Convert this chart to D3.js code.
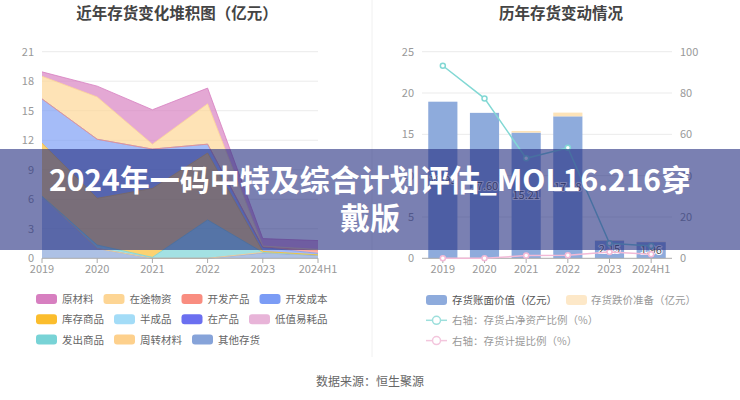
<!DOCTYPE html>
<html><head><meta charset="utf-8">
<script src="https://cdn.jsdelivr.net/npm/d3@7/dist/d3.min.js"></script>
<style>
html,body{margin:0;padding:0;background:#fff;}
svg{display:block;font-family:"Noto Sans CJK SC","Noto Sans",sans-serif;}
</style></head>
<body>
<svg id="c" width="740" height="400"></svg>
<script>
// ---------- data ----------
const years = ["2019","2020","2021","2022","2023","2024H1"];
// left chart: stacked area (bottom -> top order)
const stackKeys = ["其他存货","周转材料","发出商品","低值易耗品","在产品","半成品","库存商品","开发成本","开发产品","在途物资","原材料"];
const s_其他存货   = [6.3, 1.0, 0.0, 0.0, 0.55, 0.3];
const s_周转材料   = [0, 0, 0, 0, 0.05, 0.05];
const s_发出商品   = [0, 0.35, 0.1, 3.9, 0, 0];
const s_低值易耗品 = [0, 0, 0, 0, 0, 0];
const s_在产品     = [0, 0, 0, 0, 0, 0];
const s_半成品     = [0, 0, 0, 0, 0, 0];
const s_库存商品   = [5.4, 4.75, 7.0, 6.8, 0.1, 0];
const s_开发成本   = [4.5, 6.0, 4.0, 0.9, 0.4, 0.15];
const s_开发产品   = [0, 0, 0, 0, 0.05, 0.3];
const s_在途物资   = [2.3, 4.3, 0.5, 4.1, 0.1, 0.1];
const s_原材料     = [0.45, 1.1, 3.5, 1.6, 0.75, 0.9];
const leftTicks = [0,3,6,9,12,15,18,21];
const legendLeft = ["原材料","在途物资","开发产品","开发成本","库存商品","半成品","在产品","低值易耗品","发出商品","周转材料","其他存货"];
const colorsLeft = {"原材料":"#d77fc0","在途物资":"#fdd594","开发产品":"#f98d80","开发成本":"#7b9cf5","库存商品":"#fbbd2d","半成品":"#a3dcf7","在产品":"#6b6ff0","低值易耗品":"#e8b4d8","发出商品":"#78d3d6","周转材料":"#fdd08c","其他存货":"#86a3d9"};
// right chart
const bookValue = [18.95, 17.60, 15.21, 17.18, 2.15, 1.96];
const provision = [0.0, 0.0, 0.2, 0.45, 0.05, 0.05];
const ratioNetAsset = [93.2, 77.4, 48.4, 53.5, 7.3, 6.0];
const ratioProvision = [0, 0, 1.3, 1.5, 3.0, 2.0];
const rightTicksL = [0,5,10,15,20,25];
const rightTicksR = [0,20,40,60,80,100];

const svg = d3.select("#c");
const series = {"其他存货":s_其他存货,"周转材料":s_周转材料,"发出商品":s_发出商品,"低值易耗品":s_低值易耗品,"在产品":s_在产品,"半成品":s_半成品,"库存商品":s_库存商品,"开发成本":s_开发成本,"开发产品":s_开发产品,"在途物资":s_在途物资,"原材料":s_原材料};
const table = years.map((y,i)=>{const o={year:y}; stackKeys.forEach(k=>o[k]=series[k][i]); return o;});

// divider
svg.append("line").attr("x1",372).attr("x2",372).attr("y1",0).attr("y2",357).attr("stroke","#f0f0f0");

// ---------- left chart ----------
const xL = d3.scalePoint().domain(years).range([42,318]);
const yL = d3.scaleLinear().domain([0,21]).range([258.3,51.7]);
svg.append("text").attr("x",177).attr("y",19).attr("text-anchor","middle").attr("font-size",15.5).attr("font-weight","bold").attr("fill","#444").text("近年存货变化堆积图（亿元）");
const gL = svg.append("g");
leftTicks.forEach(t=>{
  if(t>0) gL.append("line").attr("x1",42).attr("x2",318).attr("y1",yL(t)).attr("y2",yL(t)).attr("stroke","#ebebeb");
  gL.append("text").attr("x",34).attr("y",yL(t)+4).attr("text-anchor","end").attr("font-size",11).attr("fill","#999").text(t);
});
const stack = d3.stack().keys(stackKeys)(table);
const area = d3.area().x((d,i)=>xL(years[i])).y0(d=>yL(d[0])).y1(d=>yL(d[1]));
const line = d3.line().x((d,i)=>xL(years[i])).y(d=>yL(d[1]));
stack.forEach(s=>{
  gL.append("path").attr("d",area(s)).attr("fill",colorsLeft[s.key]).attr("fill-opacity",0.68);
});
stack.forEach(s=>{
  const tot = d3.sum(series[s.key]);
  if(tot>0) gL.append("path").attr("d",line(s)).attr("fill","none").attr("stroke",colorsLeft[s.key]).attr("stroke-width",1).attr("stroke-opacity",0.8);
});
gL.append("line").attr("x1",42).attr("x2",318).attr("y1",258.3).attr("y2",258.3).attr("stroke","#aaa");
years.forEach(y=>{
  gL.append("line").attr("x1",xL(y)).attr("x2",xL(y)).attr("y1",258.3).attr("y2",263).attr("stroke","#aaa");
  gL.append("text").attr("x",xL(y)).attr("y",273).attr("text-anchor","middle").attr("font-size",11).attr("fill","#999").text(y);
});

// left legend (flow layout)
const legL = svg.append("g").attr("font-size",10.5).attr("fill","#666");
const rowsL = [legendLeft.slice(0,4),legendLeft.slice(4,8),legendLeft.slice(8)];
rowsL.forEach((row,ri)=>{
  let x = 36; const y = 299 + ri*20.3;
  row.forEach(name=>{
    legL.append("rect").attr("x",x).attr("y",y-5).attr("width",21).attr("height",10).attr("rx",3).attr("fill",colorsLeft[name]);
    const t = legL.append("text").attr("x",x+26).attr("y",y+4).text(name);
    const w = t.node().getComputedTextLength();
    x += 26 + w + 10;
  });
});

// ---------- right chart ----------
const xR = d3.scaleBand().domain(years).range([422,672]).paddingInner(0.3).paddingOuter(0.15);
const yR = d3.scaleLinear().domain([0,25]).range([258.3,51.7]);
const yR2 = d3.scaleLinear().domain([0,100]).range([258.3,51.7]);
svg.append("text").attr("x",561).attr("y",19).attr("text-anchor","middle").attr("font-size",15.5).attr("font-weight","bold").attr("fill","#444").text("历年存货变动情况");
const gR = svg.append("g");
rightTicksL.forEach(t=>{
  if(t>0) gR.append("line").attr("x1",422).attr("x2",672).attr("y1",yR(t)).attr("y2",yR(t)).attr("stroke","#ebebeb");
  gR.append("text").attr("x",414).attr("y",yR(t)+4).attr("text-anchor","end").attr("font-size",11).attr("fill","#999").text(t);
});
rightTicksR.forEach(t=>{
  gR.append("text").attr("x",680).attr("y",yR2(t)+4).attr("text-anchor","start").attr("font-size",11).attr("fill","#999").text(t);
});
years.forEach((y,i)=>{
  gR.append("rect").attr("x",xR(y)).attr("width",xR.bandwidth()).attr("y",yR(bookValue[i])).attr("height",yR(0)-yR(bookValue[i])).attr("fill","#8eabdc");
  gR.append("rect").attr("x",xR(y)).attr("width",xR.bandwidth()).attr("y",yR(bookValue[i]+provision[i])).attr("height",yR(0)-yR(provision[i])).attr("fill","#fde3b8");
});
gR.append("line").attr("x1",422).attr("x2",672).attr("y1",258.3).attr("y2",258.3).attr("stroke","#aaa");
years.forEach(y=>{
  const cx = xR(y)+xR.bandwidth()/2;
  gR.append("line").attr("x1",cx).attr("x2",cx).attr("y1",258.3).attr("y2",263).attr("stroke","#aaa");
  gR.append("text").attr("x",cx).attr("y",273).attr("text-anchor","middle").attr("font-size",11).attr("fill","#999").text(y);
});
// bar labels
years.forEach((y,i)=>{
  const cx = xR(y)+xR.bandwidth()/2;
  const cy = (yR(bookValue[i])+yR(0))/2;
  gR.append("text").attr("x",cx).attr("y",cy+4).attr("text-anchor","middle").attr("font-size",11)
    .attr("fill","#555").attr("stroke","#fff").attr("stroke-width",2).attr("paint-order","stroke").text(bookValue[i].toFixed(2));
});
// lines
const lineR = d3.line().x((d,i)=>xR(years[i])+xR.bandwidth()/2).y(d=>yR2(d));
[[ratioNetAsset,"#82d8d4"],[ratioProvision,"#f2b9d6"]].forEach(([vals,col])=>{
  gR.append("path").attr("d",lineR(vals)).attr("fill","none").attr("stroke",col).attr("stroke-width",1.5);
  vals.forEach((v,i)=>{
    gR.append("circle").attr("cx",xR(years[i])+xR.bandwidth()/2).attr("cy",yR2(v)).attr("r",2.5).attr("fill","#fff").attr("stroke",col).attr("stroke-width",1.5);
  });
});

// right legend
const legR = svg.append("g").attr("font-size",10.5);
legR.append("rect").attr("x",426).attr("y",295).attr("width",21).attr("height",10).attr("rx",3).attr("fill","#8eabdc");
legR.append("text").attr("x",452).attr("y",304).attr("fill","#555").text("存货账面价值（亿元）");
legR.append("rect").attr("x",566).attr("y",295).attr("width",21).attr("height",10).attr("rx",3).attr("fill","#fde8c8");
legR.append("text").attr("x",591).attr("y",304).attr("fill","#999").text("存货跌价准备（亿元）");
[["右轴：存货占净资产比例（%）","#9ddfdc",320.3],["右轴：存货计提比例（%）","#f3c6dd",340.6]].forEach(([txt,col,y])=>{
  legR.append("line").attr("x1",426).attr("x2",447).attr("y1",y).attr("y2",y).attr("stroke",col).attr("stroke-width",1.5);
  legR.append("circle").attr("cx",436.5).attr("cy",y).attr("r",4).attr("fill","#fff").attr("stroke",col).attr("stroke-width",1.5);
  legR.append("text").attr("x",452).attr("y",y+4).attr("fill","#999").text(txt);
});

// footer
svg.append("text").attr("x",370).attr("y",386).attr("text-anchor","middle").attr("font-size",12).attr("fill","#666").text("数据来源：恒生聚源");

// overlay banner
svg.append("rect").attr("x",0).attr("y",149).attr("width",740).attr("height",101).attr("fill","rgb(33,43,127)").attr("fill-opacity",0.6);
const bt = svg.append("g").attr("font-size",30).attr("font-weight","bold").attr("fill","#fff").attr("text-anchor","middle");
bt.append("text").attr("x",370).attr("y",191).text("2024年一码中特及综合计划评估_MOL16.216穿");
bt.append("text").attr("x",370).attr("y",229).text("戴版");
</script>
</body></html>
